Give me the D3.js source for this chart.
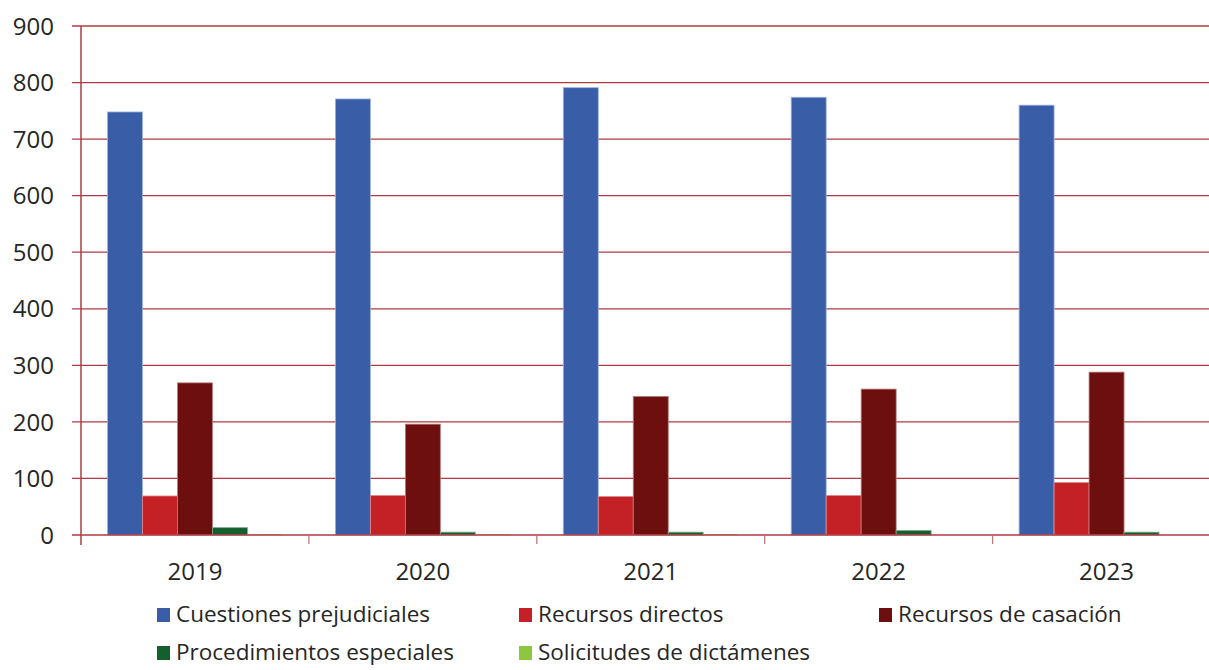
<!DOCTYPE html>
<html>
<head>
<meta charset="utf-8">
<script src="https://cdn.jsdelivr.net/npm/d3@7"></script>
<style>
  body { margin: 0; background: #fff; }
  text { font-family: "Open Sans", "Noto Sans", sans-serif; fill: #262626; }
</style>
</head>
<body>
<div class="chart"></div>
<script>
const years = ["2019", "2020", "2021", "2022", "2023"];
const series = [
  "Cuestiones prejudiciales",
  "Recursos directos",
  "Recursos de casación",
  "Procedimientos especiales",
  "Solicitudes de dictámenes",
];
const cuestiones = [748, 771, 791, 774, 760];
const directos = [69, 70, 68, 70, 93];
const casacion = [269, 196, 245, 258, 288];
const especiales = [13, 5, 5, 8, 5];
const dictamenes = [1, 1, 1, 0, 0];
const yTicks = [0, 100, 200, 300, 400, 500, 600, 700, 800, 900];

const colors = ["#3A5DA8", "#C42127", "#6D0E0F", "#145F2E", "#8DC63F"];
const strokes = ["#9DB3DE", "#E08A8D", "#B97C7D", "#7FA88C", "#C3E29E"];

const values = [cuestiones, directos, casacion, especiales, dictamenes];

const W = 1209, H = 670;
const plotLeft = 81, plotTop = 26, plotBottom = 535;
const bandW = 227.9;

const svg = d3
  .select(".chart")
  .append("svg")
  .attr("width", W)
  .attr("height", H);

const x = d3
  .scaleBand()
  .domain(years)
  .range([plotLeft, plotLeft + bandW * years.length]);

const xSub = d3
  .scaleBand()
  .domain(series)
  .range([26.5, bandW - 26.5]);

const y = d3.scaleLinear().domain([0, 900]).range([plotBottom, plotTop]);

// grid lines
svg
  .append("g")
  .selectAll("line")
  .data(yTicks.filter((d) => d > 0))
  .enter()
  .append("line")
  .attr("x1", 72)
  .attr("x2", W)
  .attr("y1", (d) => y(d))
  .attr("y2", (d) => y(d))
  .style("stroke", "#AE3B42")
  .style("stroke-width", 1.3);

// bars
const groups = svg
  .append("g")
  .selectAll("g")
  .data(years)
  .enter()
  .append("g")
  .attr("transform", (d) => "translate(" + x(d) + ",0)");

groups
  .selectAll("rect")
  .data((d, i) => series.map((s, j) => ({ s: s, j: j, v: values[j][i] })))
  .enter()
  .append("rect")
  .filter((d) => d.v > 0)
  .attr("x", (d) => xSub(d.s))
  .attr("width", xSub.bandwidth())
  .attr("y", (d) => y(d.v))
  .attr("height", (d) => y(0) - y(d.v))
  .style("fill", (d) => colors[d.j])
  .style("stroke", (d) => strokes[d.j])
  .style("stroke-width", 0.8);

// x axis
const xAxis = svg.append("g");
xAxis
  .append("line")
  .attr("x1", 72)
  .attr("x2", W)
  .attr("y1", y(0))
  .attr("y2", y(0))
  .style("stroke", "#AE3B42")
  .style("stroke-width", 1.5);

xAxis
  .selectAll(".tick")
  .data(years.slice(1))
  .enter()
  .append("line")
  .attr("x1", (d) => x(d))
  .attr("x2", (d) => x(d))
  .attr("y1", y(0))
  .attr("y2", y(0) + 9)
  .style("stroke", "#C2797D")
  .style("stroke-width", 1.3);

xAxis
  .selectAll("text")
  .data(years)
  .enter()
  .append("text")
  .attr("x", (d) => x(d) + bandW / 2)
  .attr("y", 580)
  .attr("text-anchor", "middle")
  .style("font-size", "24px")
  .text((d) => d);

// y axis
const yAxis = svg.append("g");
yAxis
  .append("line")
  .attr("x1", plotLeft)
  .attr("x2", plotLeft)
  .attr("y1", plotTop)
  .attr("y2", y(0) + 10)
  .style("stroke", "#AE3B42")
  .style("stroke-width", 1.5);

yAxis
  .selectAll("text")
  .data(yTicks)
  .enter()
  .append("text")
  .attr("x", 54)
  .attr("y", (d) => y(d))
  .attr("dy", "0.36em")
  .attr("text-anchor", "end")
  .style("font-size", "24px")
  .text((d) => d);

// legend
const legendPos = [
  [157, 614],
  [519, 614],
  [879, 614],
  [157, 652],
  [519, 652],
];

const legend = svg
  .append("g")
  .selectAll("g")
  .data(series)
  .enter()
  .append("g")
  .attr("transform", (d, i) => "translate(" + legendPos[i][0] + "," + legendPos[i][1] + ")");

legend
  .append("rect")
  .attr("x", 0)
  .attr("y", -6)
  .attr("width", 13)
  .attr("height", 14)
  .style("fill", (d, i) => colors[i]);

legend
  .append("text")
  .attr("x", 19)
  .attr("y", 0)
  .attr("dy", "0.36em")
  .style("font-size", "22.5px")
  .text((d) => d);
</script>
</body>
</html>
